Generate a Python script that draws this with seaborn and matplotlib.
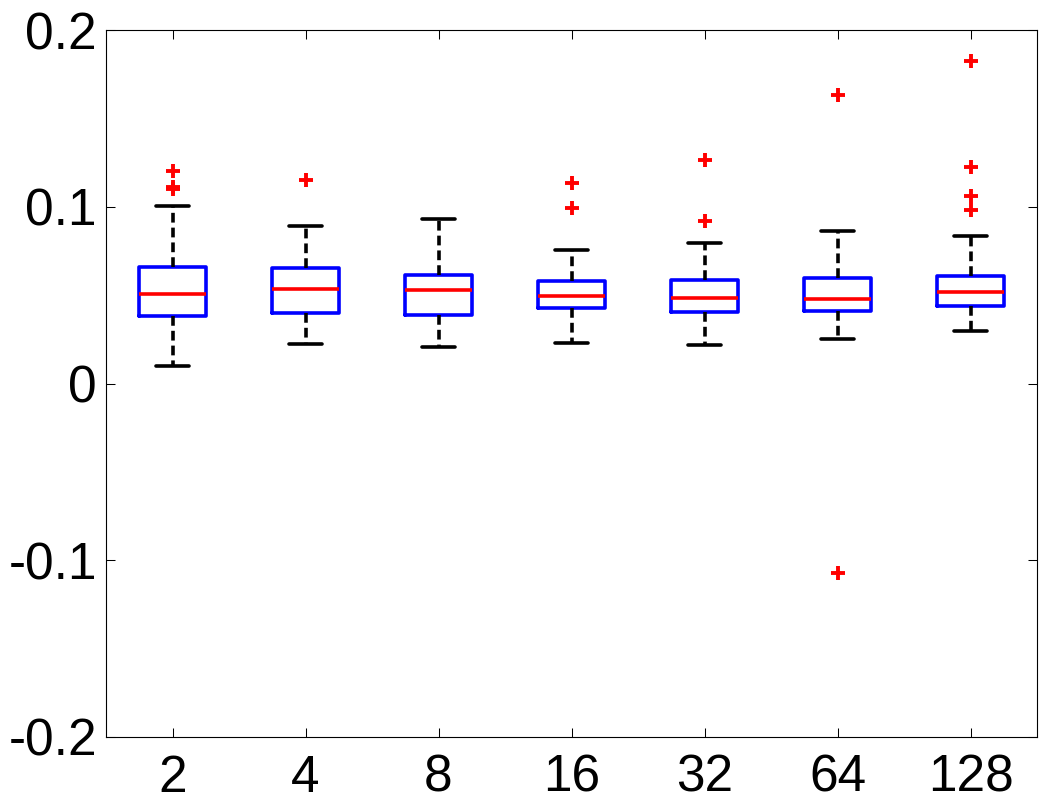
import matplotlib
matplotlib.use("Agg")
import matplotlib.pyplot as plt
import pandas as pd
import seaborn as sns

# box statistics
groups = ["2", "4", "8", "16", "32", "64", "128"]
whisker_low = [0.0099, 0.0224, 0.0207, 0.0229, 0.0218, 0.0252, 0.0297]
q1 = [0.0382, 0.0401, 0.0388, 0.0427, 0.0405, 0.0410, 0.0441]
median = [0.0506, 0.0535, 0.0529, 0.0495, 0.0484, 0.0478, 0.0518]
q3 = [0.0659, 0.0653, 0.0612, 0.0582, 0.0588, 0.0597, 0.0606]
whisker_high = [0.1003, 0.0892, 0.0930, 0.0756, 0.0795, 0.0862, 0.0834]
outliers_high = [
    [0.1205, 0.1109, 0.1101],
    [0.1154],
    [],
    [0.1137, 0.0994],
    [0.1262, 0.0917],
    [0.1635],
    [0.1825, 0.1226, 0.1062, 0.0983],
]
outliers_low = [[], [], [], [], [], [-0.1073], []]

y_ticks = [-0.2, -0.1, 0, 0.1, 0.2]
y_tick_labels = ["-0.2", "-0.1", "0", "0.1", "0.2"]


# Build a 21 point sample per group whose quartiles, whiskers and fliers
# come out exactly as the statistics above
def rebuild_sample(lo, a, m, b, hi, out_lo, out_hi):
    below = [lo] + list(out_lo)
    above = [hi] + list(out_hi)
    below += [a] * (5 - len(below))
    above += [b] * (5 - len(above))
    return below + [a] + [m] * 9 + [b] + above


rows = []
for i, g in enumerate(groups):
    sample = rebuild_sample(whisker_low[i], q1[i], median[i], q3[i],
                            whisker_high[i], outliers_low[i], outliers_high[i])
    for v in sample:
        rows.append({"n": g, "value": v})
df = pd.DataFrame(rows)

sns.set_style("ticks")
plt.rcParams["font.family"] = ["Liberation Sans", "DejaVu Sans"]
plt.rcParams["axes.edgecolor"] = "black"
plt.rcParams["axes.linewidth"] = 0.8

fig = plt.figure(figsize=(10.58, 8.09), dpi=100)
ax = fig.add_axes([0.1002, 0.089, 0.8800, 0.8739])

lw = 2.6
sns.boxplot(
    data=df, x="n", y="value", order=groups, ax=ax,
    width=0.5, fill=False, color="blue", linewidth=lw, whis=1.5,
    medianprops=dict(color="red", linewidth=lw),
    whiskerprops=dict(color="black", linewidth=lw, linestyle=(0, (2.7, 1.4))),
    capprops=dict(color="black", linewidth=lw),
    flierprops=dict(marker="+", markeredgecolor="red", markerfacecolor="red",
                    markersize=10, markeredgewidth=2.8),
)

ax.set_xlim(-0.5, len(groups) - 0.5)
ax.set_ylim(-0.2, 0.2)
ax.set_yticks(y_ticks)
ax.set_yticklabels(y_tick_labels)
ax.set_xlabel("")
ax.set_ylabel("")

for s in ax.spines.values():
    s.set_visible(True)
    s.set_color("black")
    s.set_linewidth(0.8)

ax.tick_params(axis="both", direction="in", length=6.5, width=0.75,
               colors="black", labelsize=37, top=True, right=True)
ax.tick_params(axis="y", pad=6.5)
ax.tick_params(axis="x", pad=12)

plt.savefig("out.png", dpi=100)
